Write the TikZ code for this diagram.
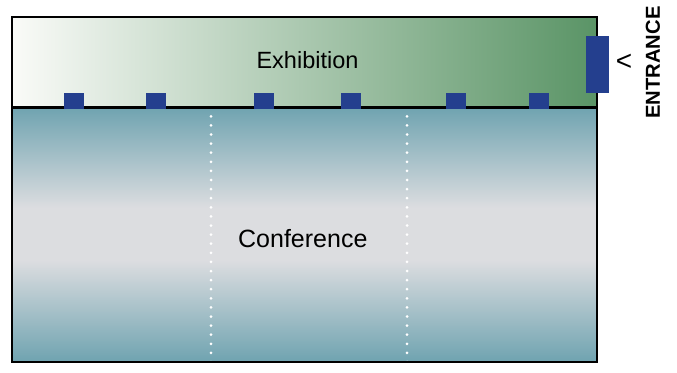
\documentclass[tikz,border=0pt]{standalone}
\usepackage{fontspec}
\setmainfont{Liberation Sans}
\definecolor{exgreen}{HTML}{5A9466}
\definecolor{exwhite}{HTML}{FAFBF8}
\definecolor{confteal}{HTML}{6FA3B0}
\definecolor{confgray}{HTML}{DCDDE0}
\definecolor{boothblue}{HTML}{243F8E}
\tikzset{
  booth/.style={fill=boothblue, draw=none},
  divider/.style={white, line width=3pt, line cap=round, dash pattern=on 0pt off 9.1pt},
  label/.style={inner sep=0pt, anchor=base},
}
\begin{document}
\begin{tikzpicture}[x=1pt,y=-1pt]
\useasboundingbox (0,0) rectangle (677,372);
% exhibition hall
\shade[left color=exwhite, right color=exgreen] (12,17) rectangle (597,107);
% conference hall
\shade[top color=confteal, bottom color=confgray] (12,107) rectangle (597,208);
\fill[confgray] (12,207.5) rectangle (597,260.5);
\shade[top color=confgray, bottom color=confteal] (12,260) rectangle (597,362);
% dividers
\coordinate (d1t) at (211,116); \coordinate (d1b) at (211,362);
\coordinate (d2t) at (407,116); \coordinate (d2b) at (407,362);
\draw[divider] (d1b) -- (d1t);
\draw[divider] (d2b) -- (d2t);
% outline
\draw[line width=2.5pt] (12,17) rectangle (597,362);
\coordinate (ml) at (12,107.5); \coordinate (mr) at (597,107.5);
\draw[line width=3pt] (ml) -- (mr);
% booths
\foreach \n/\x in {b1/74, b2/156, b3/264, b4/351, b5/456, b6/539}
  \node[booth, minimum width=20pt, minimum height=16pt, inner sep=0pt] (\n) at (\x,101) {};
% entrance door
\node[booth, minimum width=23pt, minimum height=57pt, inner sep=0pt] (door) at (597.5,64.5) {};
% labels
\node[label, font=\fontsize{23.5}{26}\selectfont] (exh) at (307.5,68) {Exhibition};
\node[label, font=\fontsize{25}{28}\selectfont] (conf) at (302.8,247.3) {Conference};
\node[font=\fontsize{28}{30}\selectfont, inner sep=0pt] (arrow) at (624,62) {<};
\node[font=\bfseries\fontsize{20.2}{24}\selectfont, rotate=90, inner sep=0pt] (ent) at (653,62.5) {ENTRANCE};
\end{tikzpicture}
\end{document}
